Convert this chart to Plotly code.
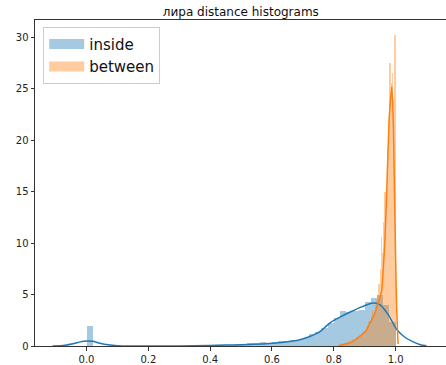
import numpy as np
import plotly.graph_objects as go

# ---- data ----
inside_bin_start = 0.0
inside_bin_width = 0.02
inside_density = [
    1.90, 0, 0, 0, 0, 0, 0, 0, 0, 0,
    0, 0, 0, 0, 0, 0, 0.03, 0, 0.05, 0.05,
    0.08, 0.05, 0.10, 0.12, 0.18, 0.15, 0.30, 0.32, 0.35, 0.30,
    0.40, 0.45, 0.50, 0.55, 0.62, 0.80, 1.15, 1.40, 1.70, 2.20,
    2.70, 3.40, 3.30, 3.40, 3.50, 4.30, 4.70, 4.95, 4.00, 2.30,
]

between_bin_start = 0.812
between_bin_width = 0.004
between_density = [
    0.1, 0.0, 0.2, 0.3, 0.2, 0.3, 0.4,
    0.3, 0.5, 0.4, 0.6, 0.5, 0.7, 0.6, 0.8, 0.9, 1.0,
    1.1, 0.9, 1.3, 1.2, 1.5, 1.4, 1.8, 2.0, 2.4, 2.0,
    2.8, 3.5, 3.0, 4.0, 4.5, 5.0, 6.0, 7.5, 10.6, 9.0,
    12.0, 15.0, 14.0, 19.0, 22.0, 27.5, 25.5, 26.5, 24.0, 30.2,
]

inside_kde_x = [-0.11, -0.07, -0.04, -0.02, 0.0, 0.02, 0.04, 0.07, 0.10, 0.15, 0.20, 0.30,
                0.40, 0.45, 0.50, 0.54, 0.60, 0.63, 0.69, 0.72, 0.755, 0.79, 0.82, 0.853,
                0.89, 0.928, 0.95, 0.975, 1.005, 1.03, 1.057, 1.08, 1.10]
inside_kde_y = [0.0, 0.08, 0.25, 0.40, 0.48, 0.45, 0.30, 0.12, 0.03, 0.0, 0.0, 0.01,
                0.05, 0.09, 0.12, 0.16, 0.26, 0.33, 0.60, 0.90, 1.40, 2.30, 2.80, 3.30,
                3.80, 4.17, 4.00, 3.10, 1.55, 0.85, 0.40, 0.12, 0.02]

between_kde_x = [0.815, 0.83, 0.853, 0.87, 0.89, 0.905, 0.917, 0.93, 0.944, 0.955,
                 0.96, 0.965, 0.97, 0.975, 0.98, 0.988, 0.993, 0.998, 1.003, 1.008]
between_kde_y = [0.0, 0.15, 0.30, 0.60, 1.07, 1.50, 2.20, 3.00, 4.20, 5.40,
                 7.5, 10.0, 14.0, 18.5, 22.5, 25.2, 21.0, 12.0, 4.0, 0.2]

title_text = "лира distance histograms"
names = ["inside", "between"]

# ---- figure ----
blue = "#1f77b4"
orange = "#ff7f0e"

def centers(start, width, n):
    return start + width * (np.arange(n) + 0.5)

fig = go.Figure()
fig.add_trace(go.Bar(
    x=centers(inside_bin_start, inside_bin_width, len(inside_density)),
    y=inside_density, width=inside_bin_width,
    marker=dict(color="rgba(31,119,180,0.4)", line=dict(width=0)),
    showlegend=False, hoverinfo="skip"))
fig.add_trace(go.Bar(
    x=centers(between_bin_start, between_bin_width, len(between_density)),
    y=between_density, width=between_bin_width,
    marker=dict(color="rgba(255,127,14,0.4)", line=dict(width=0)),
    showlegend=False, hoverinfo="skip"))
fig.add_trace(go.Scatter(x=inside_kde_x, y=inside_kde_y, mode="lines",
                         line=dict(color=blue, width=1.5, shape="spline", smoothing=0.8),
                         showlegend=False, hoverinfo="skip"))
fig.add_trace(go.Scatter(x=between_kde_x, y=between_kde_y, mode="lines",
                         line=dict(color=orange, width=1.5, shape="spline", smoothing=0.6),
                         showlegend=False, hoverinfo="skip"))
# legend patches
fig.add_trace(go.Scatter(x=[None], y=[None], mode="lines", name=names[0],
                         line=dict(color="rgba(31,119,180,0.4)", width=10)))
fig.add_trace(go.Scatter(x=[None], y=[None], mode="lines", name=names[1],
                         line=dict(color="rgba(255,127,14,0.4)", width=10)))

axis_common = dict(showline=True, linecolor="#333333", linewidth=1, mirror=True,
                   ticks="outside", ticklen=3.5, tickwidth=0.8, tickcolor="#333333",
                   showgrid=False, zeroline=False,
                   tickfont=dict(family="DejaVu Sans", size=10, color="#222222"))

fig.update_layout(
    width=446, height=365,
    margin=dict(l=35, r=0, t=20, b=19),
    paper_bgcolor="white", plot_bgcolor="white",
    barmode="overlay", bargap=0,
    title=dict(text=title_text, x=0.54, xanchor="center", y=0.967, yanchor="middle",
               font=dict(family="DejaVu Sans", size=12, color="#111111")),
    xaxis=dict(range=[-0.1667, 1.163], tickvals=[0.0, 0.2, 0.4, 0.6, 0.8, 1.0],
               ticktext=["0.0", "0.2", "0.4", "0.6", "0.8", "1.0"], **axis_common),
    yaxis=dict(range=[0, 31.65], tickvals=[0, 5, 10, 15, 20, 25, 30], **axis_common),
    legend=dict(x=0.02, y=0.979, xanchor="left", yanchor="top",
                bgcolor="rgba(255,255,255,0.8)", bordercolor="#cccccc", borderwidth=1,
                font=dict(family="DejaVu Sans", size=15, color="#111111"),
                tracegroupgap=0, itemwidth=35),
)

fig.write_html("out.html", config={"displayModeBar": False},
               post_script="document.body.style.margin='0';")
